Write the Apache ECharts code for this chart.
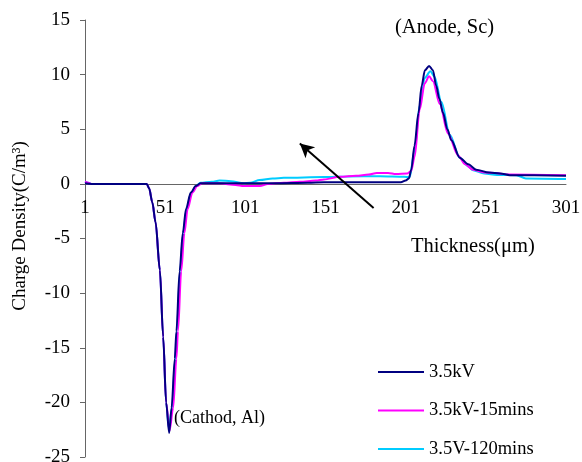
<!DOCTYPE html>
<html>
<head>
<meta charset="utf-8">
<script src="https://cdn.jsdelivr.net/npm/echarts@6/dist/echarts.min.js"></script>
<style>
  html, body { margin: 0; padding: 0; background: #fff; }
  #box { width: 582px; height: 462px; }
</style>
</head>
<body>
<div id="box"></div>
<script>
// thickness (um) and charge density (C/m3)
const t_35kV = [1, 5, 39.5, 41, 43, 45, 47.7, 49.75, 51.6, 53.5, 55, 57, 58, 60, 62, 64, 67, 70, 73, 80, 100, 120, 140, 150, 180, 198, 201, 203, 204.5, 206.5, 209, 211, 213, 215.6, 218, 220, 222, 224.3, 227, 229.5, 234.7, 240, 245, 253, 260, 266, 301]
const v_35kV = [0.05, 0, 0, -0.4, -1.7, -3.5, -7.9, -14, -20, -22.8, -20.5, -16, -13.5, -8, -4.5, -2.3, -0.8, -0.2, 0.05, 0.05, 0.05, 0.05, 0.1, 0.15, 0.15, 0.15, 0.3, 0.5, 1.3, 3.5, 6.5, 9, 10.4, 10.8, 10.4, 9, 7.8, 6.5, 5, 4, 2.4, 1.8, 1.3, 1.03, 0.95, 0.8, 0.75]

const t_15min = [1, 3, 5, 39.5, 41, 43, 45, 47.7, 49.75, 51.6, 53.7, 56, 58, 59, 61, 63, 65, 68, 71, 74, 85, 95, 100, 110, 115, 125, 135, 145, 150, 160, 170, 178, 183, 190, 195, 202, 204.5, 206.6, 209.75, 212.9, 215.6, 218, 222.25, 227.4, 233.7, 238, 243, 250, 258, 265, 301]
const v_15min = [0.2, 0.1, 0, 0, -0.4, -1.7, -3.5, -7.9, -14, -20, -22.6, -20.5, -16, -13.5, -8, -4.5, -2.3, -0.8, -0.2, 0.05, 0.05, -0.1, -0.2, -0.2, 0, 0.1, 0.2, 0.3, 0.4, 0.65, 0.75, 0.85, 1, 1, 0.9, 0.95, 1.2, 2.5, 6.8, 9.2, 9.85, 9.4, 7.3, 4.6, 2.6, 1.8, 1.3, 1.05, 0.98, 0.85, 0.78]

const t_120min = [1, 3, 5, 39.5, 41, 43, 45, 47.7, 49.75, 51.6, 53.3, 55.3, 57.3, 58.3, 60.3, 62.3, 64.3, 67.3, 70.3, 73, 80, 85, 92, 100, 104, 110, 118, 125, 150, 165, 185, 200, 203.5, 206.6, 209.75, 212.9, 216.4, 219, 223.3, 228.5, 234.75, 240, 243, 250, 258, 270, 276, 301]
const v_120min = [0.2, 0.1, 0, 0, -0.4, -1.7, -3.5, -7.9, -14, -20, -22.4, -20.5, -16, -13.5, -8, -4.5, -2.3, -0.8, -0.2, 0.1, 0.2, 0.3, 0.25, 0.05, 0.1, 0.35, 0.5, 0.55, 0.62, 0.68, 0.7, 0.65, 0.6, 3.1, 7.2, 9.7, 10.3, 9.8, 7.5, 4.5, 2.4, 1.6, 1.25, 0.95, 0.82, 0.8, 0.5, 0.45]

const names = ['3.5kV', '3.5kV-15mins', '3.5V-120mins']
const colors = ['#000080', '#ff00ff', '#00ccff']
const yTicks = [-25, 15, 5]   // min, max, step
const xTicks = [1, 301, 50]

// x axis is drawn from 0, labels add back the first thickness value
function pairs(ts, vs) {
  return ts.map((t, i) => [t - xTicks[0], vs[i]])
}

const font = 'Liberation Serif'
const seriesData = [pairs(t_35kV, v_35kV), pairs(t_15min, v_15min), pairs(t_120min, v_120min)]

const series = seriesData.map((d, i) => ({
  name: names[i],
  type: 'line',
  data: d,
  showSymbol: false,
  smooth: 0.3,
  smoothMonotone: 'x',
  lineStyle: { width: 2, color: colors[i] },
  itemStyle: { color: colors[i] },
  z: 3 - i
}))

// arrow annotation
series[0].markLine = {
  silent: true,
  symbol: ['none', 'arrow'],
  symbolSize: [11, 14],
  label: { show: false },
  lineStyle: { color: '#000', width: 2, type: 'solid' },
  data: [[{ coord: [181 - xTicks[0], -2.2] }, { coord: [135 - xTicks[0], 3.7] }]]
}

const chart = echarts.init(document.getElementById('box'))
chart.setOption({
  animation: false,
  textStyle: { fontFamily: font },
  grid: { left: 85, right: 16, top: 20, bottom: 5, containLabel: false, outerBoundsMode: 'none' },
  legend: {
    orient: 'vertical',
    left: 378,
    top: 362,
    padding: 0,
    icon: 'rect',
    itemWidth: 46,
    itemHeight: 2,
    itemGap: 18.5,
    data: names,
    textStyle: { fontFamily: font, fontSize: 18.5, color: '#000', lineHeight: 20 }
  },
  xAxis: {
    type: 'value',
    min: 0,
    max: xTicks[1] - xTicks[0],
    interval: xTicks[2],
    axisLine: { onZero: false, lineStyle: { color: '#666', width: 1 } },
    axisTick: { show: false },
    splitLine: { show: false },
    axisLabel: {
      margin: 15,
      fontFamily: font,
      fontSize: 19,
      color: '#000',
      formatter: v => String(v + xTicks[0])
    }
  },
  yAxis: {
    type: 'value',
    min: yTicks[0],
    max: yTicks[1],
    interval: yTicks[2],
    axisLine: { show: true, onZero: false, lineStyle: { color: '#666', width: 1 } },
    axisTick: { show: true, length: 5, lineStyle: { color: '#666' } },
    splitLine: { show: false },
    axisLabel: { margin: 15, fontFamily: font, fontSize: 19, color: '#000' }
  },
  graphic: [
    {
      type: 'text', x: 20, y: 226, rotation: Math.PI / 2,
      style: { text: 'Charge Density(C/m³)', font: '19px "Liberation Serif"', fill: '#000', align: 'center', verticalAlign: 'middle' }
    },
    {
      type: 'text', x: 411, y: 247,
      style: { text: 'Thickness(μm)', font: '20.5px "Liberation Serif"', fill: '#000', align: 'left', verticalAlign: 'middle' }
    },
    {
      type: 'text', x: 395, y: 28,
      style: { text: '(Anode, Sc)', font: '20.5px "Liberation Serif"', fill: '#000', align: 'left', verticalAlign: 'middle' }
    },
    {
      type: 'text', x: 174, y: 418,
      style: { text: '(Cathod, Al)', font: '18px "Liberation Serif"', fill: '#000', align: 'left', verticalAlign: 'middle' }
    }
  ],
  series: series
})

// move the x axis up to y = 0 (onZero does not take here)
const zeroY = chart.convertToPixel({ yAxisIndex: 0 }, 0)
const bottomY = chart.convertToPixel({ yAxisIndex: 0 }, yTicks[0])
chart.setOption({ xAxis: { offset: zeroY - bottomY } })
</script>
</body>
</html>
